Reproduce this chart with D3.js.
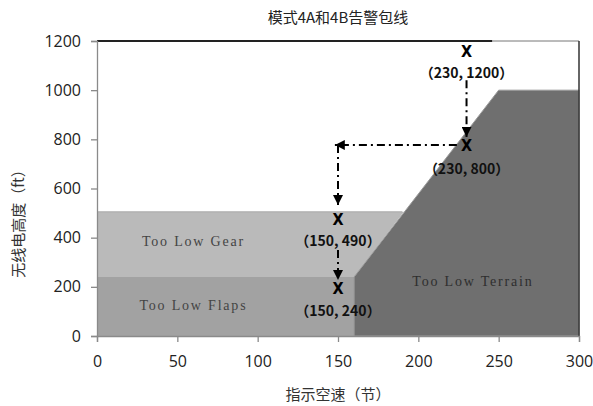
<!DOCTYPE html>
<html><head><meta charset="utf-8">
<script src="https://cdn.jsdelivr.net/npm/d3@7"></script>
<style>body{margin:0;background:#fff}svg{display:block}</style>
</head><body>
<svg id="c" width="593" height="406"></svg>
<script>
const title = "模式4A和4B告警包线";
const xLabel = "指示空速（节）";
const yLabel = "无线电高度（ft）";
const xTicks = [0, 50, 100, 150, 200, 250, 300];
const yTicks = [0, 200, 400, 600, 800, 1000, 1200];
// regions (speed, altitude)
const gearRegion = [[0,240],[0,505],[191,505],[160,240]];
const flapsRegion = [[0,0],[0,240],[160,240],[160,0]];
const terrainRegion = [[160,0],[160,240],[250,1000],[300,1000],[300,0]];
const regionNames = ["Too Low Gear", "Too Low Flaps", "Too Low Terrain"];
const regionLabelPos = [[60,380],[60,120],[234,215]];
// example markers
const markX = [230, 230, 150, 150];
const markY = [1155, 770, 470, 188];
const markLabels = ["（230, 1200）", "（230, 800）", "（150, 490）", "（150, 240）"];
const labelY = [1065, 675, 380, 95];
const arrows = [
  [[230,1040],[230,810]],
  [[224,777],[148,777]],
  [[150,777],[150,533]],
  [[150,350],[150,228]]
];

const svg = d3.select("#c");
const x = d3.scaleLinear().domain([0,300]).range([97,579]);
const y = d3.scaleLinear().domain([0,1200]).range([336,41]);
const line = d3.line().x(d=>x(d[0])).y(d=>y(d[1]));

svg.append("path").attr("d", line(gearRegion)+"Z").attr("fill","#bababa");
svg.append("path").attr("d", line(flapsRegion)+"Z").attr("fill","#a2a2a2");
svg.append("path").attr("d", line(terrainRegion)+"Z").attr("fill","#6f6f6f")
  .attr("stroke","#9a9a9a").attr("stroke-width",1);
svg.append("line").attr("x1",x(0)).attr("x2",x(190)).attr("y1",y(505)).attr("y2",y(505)).attr("stroke","#a8a8a8");

// frame
svg.append("line").attr("x1",x(0)).attr("x2",x(246)).attr("y1",y(1200)).attr("y2",y(1200)).attr("stroke","#222").attr("stroke-width",2);
svg.append("line").attr("x1",x(246)).attr("x2",x(300)).attr("y1",y(1200)).attr("y2",y(1200)).attr("stroke","#777").attr("stroke-width",1);
svg.append("line").attr("x1",x(300)).attr("x2",x(300)).attr("y1",y(1200)).attr("y2",y(0)).attr("stroke","#333").attr("stroke-width",1.5);

// axes
const fmt = d3.format("d");
const ax = svg.append("g").attr("transform",`translate(0,${y(0)})`)
  .call(d3.axisBottom(x).tickValues(xTicks).tickFormat(fmt).tickSize(6).tickPadding(14));
const ay = svg.append("g").attr("transform",`translate(${x(0)},0)`)
  .call(d3.axisLeft(y).tickValues(yTicks).tickFormat(fmt).tickSize(6).tickPadding(10));
[ax,ay].forEach(g=>{
  g.selectAll("path,line").attr("stroke","#8a8a8a").attr("stroke-width",1.3);
  g.selectAll("text").attr("font-family","'Open Sans','DejaVu Sans',sans-serif")
    .attr("font-size",16).attr("fill","#222");
});

// region labels
regionNames.forEach((t,i)=>{
  svg.append("text").attr("x",x(regionLabelPos[i][0])).attr("y",y(regionLabelPos[i][1]))
    .attr("text-anchor","middle").attr("dominant-baseline","middle")
    .attr("font-family","'Liberation Serif',serif").attr("font-size",14).attr("letter-spacing",1.8)
    .attr("fill", i===2 ? "#2e2e2e" : "#444").text(t);
});

// arrows
const defs = svg.append("defs");
defs.append("marker").attr("id","ah").attr("viewBox","0 0 10 10").attr("refX",10).attr("refY",5)
  .attr("markerWidth",10).attr("markerHeight",10).attr("markerUnits","userSpaceOnUse").attr("orient","auto")
  .append("path").attr("d","M0,0L10,5L0,10Z").attr("fill","#000");
arrows.forEach(a=>{
  svg.append("path").attr("d",line(a)).attr("stroke","#000").attr("stroke-width",2)
    .attr("stroke-dasharray","8,4,2,4").attr("fill","none").attr("marker-end","url(#ah)");
});

// markers
markX.forEach((mx,i)=>{
  svg.append("text").attr("x",x(mx)).attr("y",y(markY[i])).attr("text-anchor","middle")
    .attr("dominant-baseline","middle").attr("font-family","'DejaVu Sans Condensed','DejaVu Sans',sans-serif")
    .attr("font-size",16).attr("font-weight","bold").attr("fill","#000").text("X");
  svg.append("text").attr("x",x(mx)).attr("y",y(labelY[i])).attr("text-anchor","middle")
    .attr("dominant-baseline","middle").attr("font-family","'Noto Sans CJK KR',sans-serif")
    .attr("font-size",14).attr("font-weight","bold").attr("fill","#111").text(markLabels[i]);
});

// titles
svg.append("text").attr("x",338).attr("y",19).attr("text-anchor","middle").attr("dominant-baseline","middle")
  .attr("font-family","'Noto Sans CJK SC',sans-serif").attr("font-size",15).attr("fill","#222").text(title);
svg.append("text").attr("x",338).attr("y",396).attr("text-anchor","middle").attr("dominant-baseline","middle")
  .attr("font-family","'Noto Sans CJK SC',sans-serif").attr("font-size",15).attr("fill","#333").text(xLabel);
svg.append("text").attr("transform","translate(20,220) rotate(-90)").attr("text-anchor","middle")
  .attr("dominant-baseline","middle").attr("font-family","'Noto Sans CJK SC',sans-serif")
  .attr("font-size",15).attr("fill","#333").text(yLabel);
</script>
</body></html>
